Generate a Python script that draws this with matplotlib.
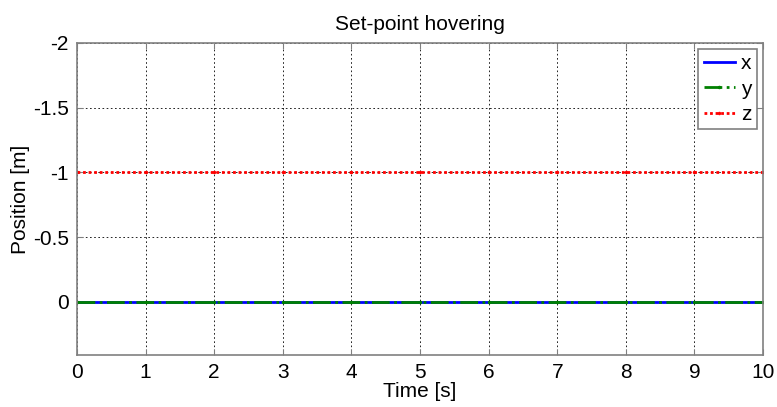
import matplotlib
matplotlib.use("Agg")
import matplotlib.pyplot as plt

plt.rcParams['font.family'] = ['Liberation Sans', 'DejaVu Sans']

# time samples [s] and set-point position of each axis [m]
t = [0, 1, 2, 3, 4, 5, 6, 7, 8, 9, 10]
pos_x = [0, 0, 0, 0, 0, 0, 0, 0, 0, 0, 0]
pos_y = [0, 0, 0, 0, 0, 0, 0, 0, 0, 0, 0]
pos_z = [-1, -1, -1, -1, -1, -1, -1, -1, -1, -1, -1]

xticks = [0, 1, 2, 3, 4, 5, 6, 7, 8, 9, 10]
yticks = [-2, -1.5, -1, -0.5, 0]

fig = plt.figure(figsize=(7.77, 4.07), dpi=100)
ax = fig.add_axes([77/777, 1 - 355/407, 686/777, 312/407])

ax.plot(t, pos_x, color='#0000ff', lw=2, label='x')
ax.plot(t, pos_y, color='#008000', lw=2, ls='-.', marker='.', ms=3, label='y')
ax.plot(t, pos_z, color='#ff0000', lw=2, ls=(0, (1, 1)), marker='.', ms=3, label='z')

ax.set_xlim(0, 10)
ax.set_ylim(0.41, -2)
ax.set_xticks(xticks)
ax.set_xticklabels([str(v) for v in xticks])
ax.set_yticks(yticks)
ax.set_yticklabels(['-2', '-1.5', '-1', '-0.5', '0'])

ax.grid(True, color='black', ls=(0, (2, 3)), lw=0.6)
ax.tick_params(direction='in', length=4, labelsize=15, color='#808080',
               top=True, right=True, pad=6)
for s in ax.spines.values():
    s.set_color('#808080')
    s.set_linewidth(1.2)

ax.set_title('Set-point hovering', fontsize=15, pad=9)
ax.set_xlabel('Time [s]', fontsize=15, labelpad=0)
ax.set_ylabel('Position [m]', fontsize=15, labelpad=2)

leg = ax.legend(loc='upper right', fontsize=15, handlelength=1.5, handletextpad=0.3,
                borderpad=0.25, labelspacing=0.3, fancybox=False, framealpha=1,
                borderaxespad=0.3, numpoints=1)
leg.get_frame().set_edgecolor('#808080')
leg.get_frame().set_linewidth(1.2)

fig.savefig('out.png', dpi=100)
